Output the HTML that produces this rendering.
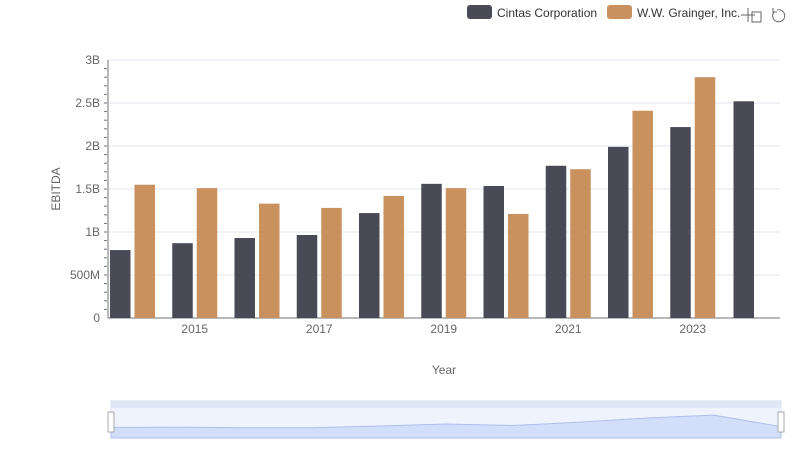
<!DOCTYPE html>
<html><head><meta charset="utf-8"><style>
body{margin:0;background:#fff;font-family:"Liberation Sans",sans-serif}
svg text{font-family:"Liberation Sans",sans-serif}
</style></head><body>
<svg id="c" width="800" height="461">
<g>
<rect x="467" y="5" width="25" height="14" rx="3" fill="#4a4a57"/>
<text x="497" y="17" font-size="12" fill="#333">Cintas Corporation</text>
<rect x="607" y="5" width="25" height="14" rx="3" fill="#c8915e"/>
<text x="637" y="17" font-size="12" fill="#333">W.W. Grainger, Inc.</text>
</g>
<g stroke="#666" fill="none">
<path d="M748 8v14M741 15h14M752 12h9v10h-9z"/>
<path d="M777 10a6 6 0 1 1 -3 2M773 8v4h4"/>
</g>
<g id="grid"></g>
<g id="bars"></g>
<text x="444" y="374" font-size="12" fill="#666" text-anchor="middle">Year</text>
<text transform="translate(60,189) rotate(-90)" font-size="12" fill="#666" text-anchor="middle">EBITDA</text>
<g>
<rect x="111" y="401" width="670" height="37" fill="none" stroke="#d2dbee"/>
<rect x="111" y="401" width="670" height="7" fill="#dfe6f5"/>
<rect x="111" y="408" width="670" height="30" fill="#e8eefc" opacity="0.7"/>
<path id="spark" fill="#d3defa" stroke="#aebfea"/>
<rect x="108" y="412" width="6" height="20" fill="#fff" stroke="#aaa"/>
<rect x="778" y="412" width="6" height="20" fill="#fff" stroke="#aaa"/>
</g>
</svg>
<script>
const years=["2014","2015","2016","2017","2018","2019","2020","2021","2022","2023","2024"];
const cintas=[0.79,0.87,0.93,0.965,1.22,1.56,1.535,1.77,1.99,2.22,2.52];
const grainger=[1.55,1.51,1.33,1.28,1.42,1.51,1.21,1.73,2.41,2.80,null];
const yTicks=[0,0.5,1,1.5,2,2.5,3];
const yLabels=["0","500M","1B","1.5B","2B","2.5B","3B"];
const NS="http://www.w3.org/2000/svg";
const X0=108,X1=780,Y0=318,YT=60,MAX=3;
const y=v=>Y0-(v/MAX)*(Y0-YT);
const step=62.25;
const cx=i=>132.5+step*i;
function mk(t,a,p){const e=document.createElementNS(NS,t);for(const k in a)e.setAttribute(k,a[k]);(p||document.getElementById('c')).appendChild(e);return e;}
const g=document.getElementById('grid'),b=document.getElementById('bars');
yTicks.forEach((v,i)=>{
 const l=mk('line',{x1:X0,x2:X1,y1:y(v),y2:y(v),stroke:i?'#e0e6f1':'#6e7079'},g);
 
 
 const t=mk('text',{x:100,y:y(v)+4,'font-size':12,fill:'#666','text-anchor':'end'},g);t.textContent=yLabels[i];
 
 
});
for(let v=0.1;v<MAX;v+=0.1){const m=mk('line',{x1:104,x2:107,y1:y(v),y2:y(v),stroke:'#6e7079'},g);
 
 }
const ax=mk('line',{x1:X0,x2:X0,y1:YT,y2:Y0,stroke:'#6e7079'},g);


years.forEach((yr,i)=>{
 if(i%2==1){const t=mk('text',{x:cx(i),y:333,'font-size':12,fill:'#666','text-anchor':'middle'},g);t.textContent=yr;
 
 }
 const off=i==years.length-1?-11.5:-12.5;
 if(cintas[i]!=null){const r=mk('rect',{x:cx(i)+off-10,y:y(cintas[i]),width:20.5,height:Y0-y(cintas[i]),fill:'#4a4a57'},b);
 
 }
 if(grainger[i]!=null){const r=mk('rect',{x:cx(i)+2,y:y(grainger[i]),width:20.5,height:Y0-y(grainger[i]),fill:'#c8915e'},b);
 
 }
});
let d='M111 438';years.forEach((yr,i)=>{const v=(cintas[i]||0)+(grainger[i]||0);d+=' L'+(111+670*i/(years.length-1))+' '+(438-v/5.5*25);});
d+=' L781 438Z';document.getElementById('spark').setAttribute('d',d);
</script>
</body></html>
